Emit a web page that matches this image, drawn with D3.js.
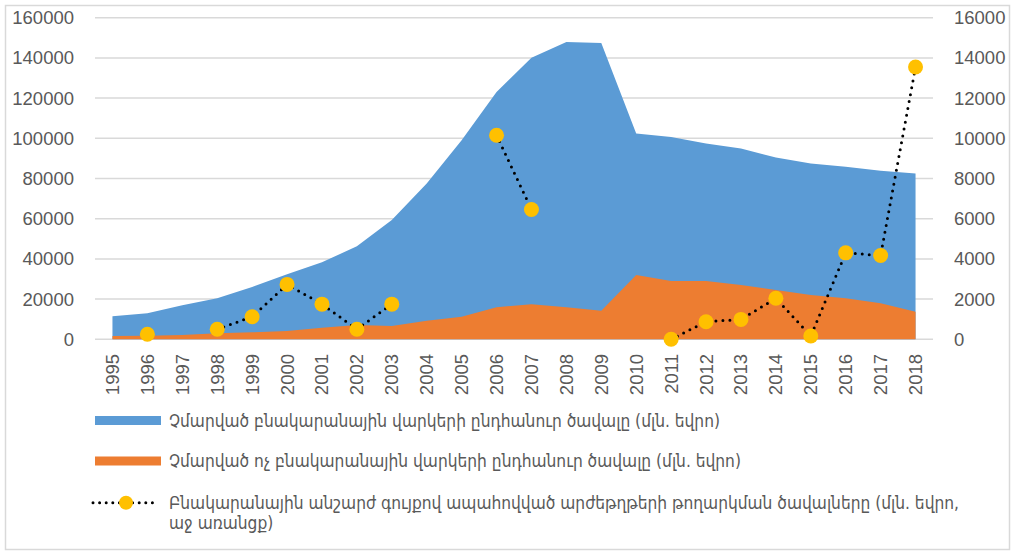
<!DOCTYPE html>
<html>
<head>
<meta charset="utf-8">
<script src="https://cdn.jsdelivr.net/npm/d3@7"></script>
<style>
  body { margin: 0; background: #fff; }
  svg { display: block; }
  .tick-label { font-family: "Liberation Sans", Arial, sans-serif; font-size: 18.5px; fill: #595959; }
  .legend-text { font-family: "DejaVu Sans Condensed", "DejaVu Sans", sans-serif; font-size: 17.2px; fill: #595959; }
</style>
</head>
<body>
<div id="chart"></div>
<script>
// years on the category axis
var years = [1995,1996,1997,1998,1999,2000,2001,2002,2003,2004,2005,2006,
             2007,2008,2009,2010,2011,2012,2013,2014,2015,2016,2017,2018];

// outstanding housing loans (mln EUR), left axis
var housingLoans = [11500,13000,17000,20400,26000,32400,38300,46300,59300,77500,99000,123000,
                    140100,147900,147400,102400,100700,97400,94900,90400,87500,85800,83800,82500];

// outstanding non-housing loans (mln EUR), left axis
var otherLoans = [1600,1800,2200,3000,3500,4100,5800,7100,6600,9200,11200,15900,
                  17500,15900,14200,32000,29000,29000,27000,24500,22000,20400,17900,13700];

// issuance of mortgage backed securities (mln EUR), right axis
var securities = [null,250,null,500,1120,2730,1750,500,1750,null,null,10150,
                  6460,null,null,null,0,875,990,2040,165,4300,4170,13550];

var leftTicks = [0,20000,40000,60000,80000,100000,120000,140000,160000];
var rightTicks = [0,2000,4000,6000,8000,10000,12000,14000,16000];

var legendLabels = [
  "Չմարված բնակարանային վարկերի ընդհանուր ծավալը (մլն. եվրո)",
  "Չմարված ոչ բնակարանային վարկերի ընդհանուր ծավալը (մլն. եվրո)",
  ["Բնակարանային անշարժ գույքով ապահովված արժեթղթերի թողարկման ծավալները (մլն. եվրո,", "աջ առանցք)"]
];

function drawChart(){
  var width = 1013, height = 553;
  var colors = { blue: "#5B9BD5", orange: "#ED7D31", marker: "#FFC000", grid: "#D9D9D9" };

  var svg = d3.select("#chart").append("svg")
      .attr("width", width)
      .attr("height", height);

  // outer border
  svg.append("rect")
      .attr("x", 5.5).attr("y", 5.5)
      .attr("width", 1004).attr("height", 544)
      .style("fill", "none")
      .style("stroke", colors.grid)
      .style("stroke-width", 1.5);

  var plotLeft = 95, plotRight = 933, plotTop = 17.7, plotBottom = 339.3;

  var x = d3.scalePoint()
      .domain(years)
      .range([plotLeft, plotRight])
      .padding(0.5);

  var yLeft = d3.scaleLinear().domain([0, 160000]).range([plotBottom, plotTop]);
  var yRight = d3.scaleLinear().domain([0, 16000]).range([plotBottom, plotTop]);

  // gridlines
  svg.append("g").selectAll("line")
      .data(leftTicks)
      .enter().append("line")
      .attr("x1", plotLeft).attr("x2", plotRight)
      .attr("y1", function(d){ return yLeft(d); })
      .attr("y2", function(d){ return yLeft(d); })
      .style("stroke", colors.grid)
      .style("stroke-width", 1.5);

  // left axis labels
  svg.append("g").selectAll("text")
      .data(leftTicks)
      .enter().append("text")
      .attr("class", "tick-label")
      .attr("x", 74)
      .attr("y", function(d){ return yLeft(d); })
      .attr("dy", "0.35em")
      .style("text-anchor", "end")
      .text(function(d){ return d; });

  // right axis labels
  svg.append("g").selectAll("text")
      .data(rightTicks)
      .enter().append("text")
      .attr("class", "tick-label")
      .attr("x", 954)
      .attr("y", function(d){ return yRight(d); })
      .attr("dy", "0.35em")
      .style("text-anchor", "start")
      .text(function(d){ return d; });

  // year labels, rotated
  svg.append("g").selectAll("text")
      .data(years)
      .enter().append("text")
      .attr("class", "tick-label")
      .attr("transform", function(d){ return "translate(" + x(d) + ",354) rotate(-90)"; })
      .attr("dy", "0.35em")
      .style("text-anchor", "end")
      .text(function(d){ return d; });

  var area = d3.area()
      .x(function(d, i){ return x(years[i]); })
      .y0(yLeft(0))
      .y1(function(d){ return yLeft(d); });

  svg.append("path")
      .datum(housingLoans)
      .attr("d", area)
      .style("fill", colors.blue);

  svg.append("path")
      .datum(otherLoans)
      .attr("d", area)
      .style("fill", colors.orange);

  // dotted line, broken where values are missing
  var secLine = d3.line()
      .defined(function(d){ return d != null; })
      .x(function(d, i){ return x(years[i]); })
      .y(function(d){ return yRight(d); });

  svg.append("path")
      .datum(securities)
      .attr("d", secLine)
      .style("fill", "none")
      .style("stroke", "#000")
      .style("stroke-width", 3)
      .style("stroke-linecap", "round")
      .style("stroke-dasharray", "0 7");

  var pts = years.map(function(y, i){ return { year: y, value: securities[i] }; })
      .filter(function(d){ return d.value != null; });

  svg.append("g").selectAll("circle")
      .data(pts)
      .enter().append("circle")
      .attr("cx", function(d){ return x(d.year); })
      .attr("cy", function(d){ return yRight(d.value); })
      .attr("r", 7.5)
      .style("fill", colors.marker);

  // legend
  var legend = svg.append("g");
  var legendY = [420.5, 461, 502.7];

  legend.append("rect")
      .attr("x", 95).attr("y", legendY[0] - 4.5)
      .attr("width", 66).attr("height", 9)
      .style("fill", colors.blue);
  legend.append("rect")
      .attr("x", 95).attr("y", legendY[1] - 4.5)
      .attr("width", 66).attr("height", 9)
      .style("fill", colors.orange);
  legend.append("line")
      .attr("x1", 93).attr("x2", 158)
      .attr("y1", legendY[2]).attr("y2", legendY[2])
      .style("stroke", "#000")
      .style("stroke-width", 3)
      .style("stroke-linecap", "round")
      .style("stroke-dasharray", "0 6.6");
  legend.append("circle")
      .attr("cx", 126).attr("cy", legendY[2])
      .attr("r", 7)
      .style("fill", colors.marker);

  legend.append("text").attr("class", "legend-text")
      .attr("x", 169).attr("y", legendY[0]).attr("dy", "0.35em")
      .text(legendLabels[0]);
  legend.append("text").attr("class", "legend-text")
      .attr("x", 169).attr("y", legendY[1]).attr("dy", "0.35em")
      .text(legendLabels[1]);
  var t3 = legend.append("text").attr("class", "legend-text")
      .attr("x", 169).attr("y", legendY[2]).attr("dy", "0.35em");
  t3.append("tspan").attr("x", 169).text(legendLabels[2][0]);
  t3.append("tspan").attr("x", 169).attr("dy", 20).text(legendLabels[2][1]);
}

drawChart();
</script>
</body>
</html>
